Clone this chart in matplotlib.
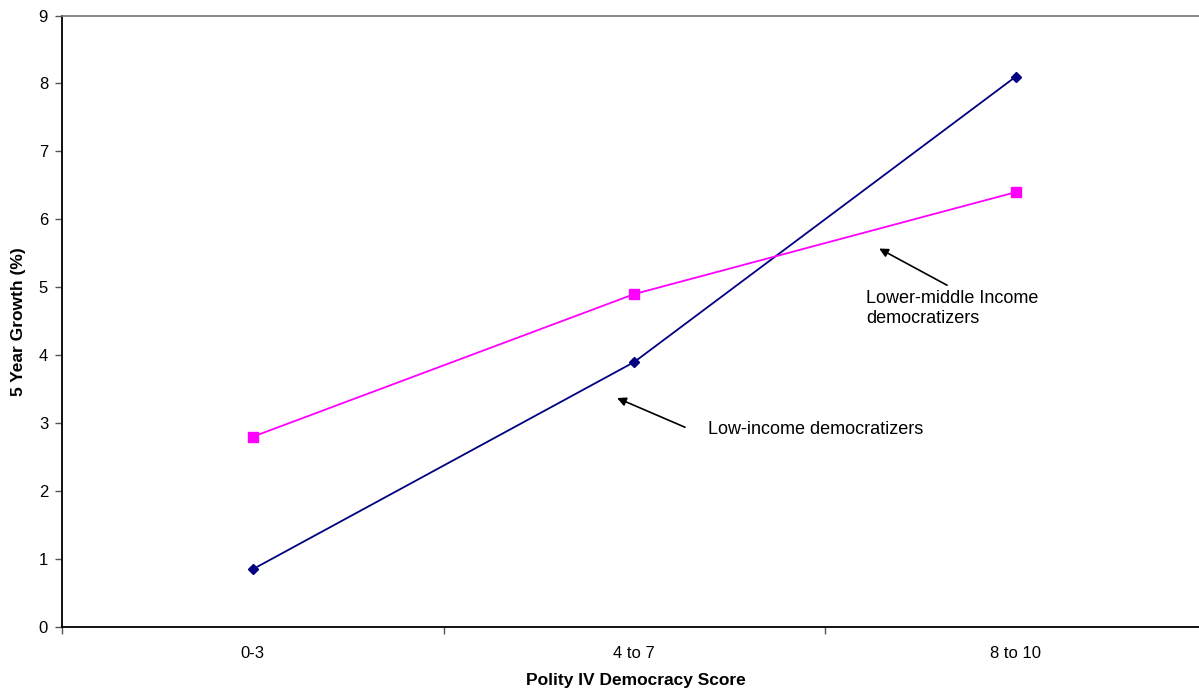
import matplotlib.pyplot as plt
from matplotlib.ticker import FixedLocator, NullFormatter

plt.rcParams['font.family'] = ['Liberation Sans', 'DejaVu Sans']

# Polity IV score groups and 5-year growth for each income group
score_groups = ['0-3', '4 to 7', '8 to 10']
low_income = [0.85, 3.9, 8.1]
lower_middle = [2.8, 4.9, 6.4]

fig = plt.figure(figsize=(11.99, 6.89), dpi=100)
# plot area runs a little past the right edge of the figure
ax = fig.add_axes([62 / 1199, 62 / 689, 1144.5 / 1199, 611.5 / 689])

x = list(range(len(score_groups)))
ax.plot(x, low_income, color='#000080', lw=1.3, marker='D', ms=5.5,
        markeredgecolor='#000080', clip_on=False)
ax.plot(x, lower_middle, color='#FF00FF', lw=1.3, marker='s', ms=6.5,
        markeredgecolor='#FF00FF', clip_on=False)

ax.set_xlim(-0.5, 2.5)
ax.set_ylim(0, 9)
ax.set_yticks(range(10))
ax.set_xticks(x)
ax.set_xticklabels(score_groups, fontsize=12)
ax.tick_params(axis='x', which='major', length=0, pad=14)
ax.xaxis.set_minor_locator(FixedLocator([-0.5, 0.5, 1.5, 2.5]))
ax.xaxis.set_minor_formatter(NullFormatter())
ax.tick_params(axis='x', which='minor', length=5, width=1, color='#555555')
ax.tick_params(axis='y', length=5, width=1, color='#555555', labelsize=12, pad=5)

for side in ['left', 'bottom']:
    ax.spines[side].set_color('black')
    ax.spines[side].set_linewidth(1.3)
ax.spines['top'].set_color('#777777')
ax.spines['top'].set_linewidth(1.2)
ax.spines['right'].set_visible(False)

ax.set_xlabel('Polity IV Democracy Score', fontsize=12.5, fontweight='bold',
              va='center')
ax.xaxis.set_label_coords((636 - 62) / 1144.5, -(681 - 627) / 611.5)
ax.set_ylabel('5 Year Growth (%)', fontsize=12.5, fontweight='bold')
ax.yaxis.set_label_coords(-(62 - 26) / 1144.5, 0.5)

# callouts with arrows
arrow = dict(arrowstyle='-|>', color='black', lw=1.2, mutation_scale=13,
             shrinkA=0, shrinkB=0)
ax.annotate('', xy=(0.955, 3.37), xytext=(1.133, 2.94), arrowprops=arrow)
ax.text(1.193, 2.90, 'Low-income democratizers', fontsize=13, va='center')
ax.annotate('', xy=(1.642, 5.57), xytext=(1.82, 5.03), arrowprops=arrow)
ax.text(1.607, 4.69, 'Lower-middle Income\ndemocratizers', fontsize=13,
        va='center', linespacing=1.2)

plt.savefig('out.png', dpi=100)
plt.close()
